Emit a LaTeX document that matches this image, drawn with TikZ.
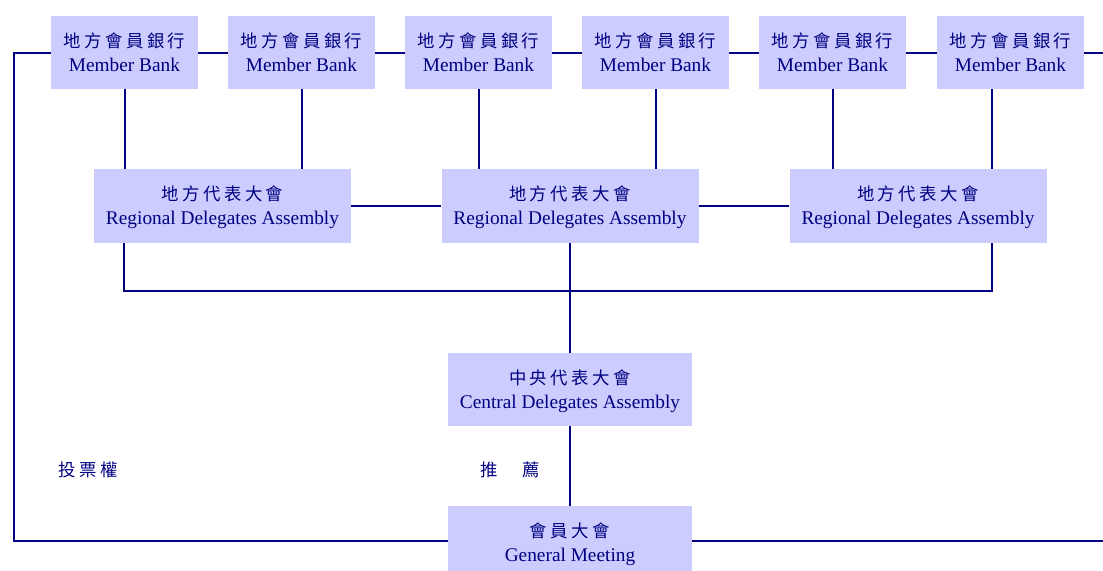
\documentclass[tikz,border=0pt]{standalone}
\usepackage{fontspec}
\setmainfont{Liberation Serif}
\newfontfamily\cjk[LetterSpace=20,Scale=0.9]{Noto Sans CJK TC}
\definecolor{boxfill}{RGB}{204,204,255}
\definecolor{navy}{RGB}{0,0,128}
\begin{document}
\begin{tikzpicture}[x=0.75pt,y=-0.75pt,
  every node/.style={text=navy,font=\fontsize{14.5}{18}\selectfont},
  orgbox/.style={fill=boxfill,inner sep=0pt,align=center,
    text height=31.8pt,text depth=4pt},
  bankbox/.style={orgbox,minimum width=147*0.75pt,minimum height=73*0.75pt},
  regbox/.style={orgbox,minimum width=257*0.75pt,minimum height=74*0.75pt},
  centbox/.style={orgbox,minimum width=244*0.75pt,minimum height=73*0.75pt},
  link/.style={draw=navy,line width=1.5pt}]
\useasboundingbox (0,0) rectangle (1103,571);

% member banks
\foreach \i/\x in {1/124.5,2/301.5,3/478.5,4/655.5,5/832.5,6/1010.5}
  \node[bankbox] (mb\i) at (\x,52.5) {{\cjk 地方會員銀行}\\Member Bank};

% regional delegates assemblies
\node[regbox] (ra) at (222.5,206) {{\cjk 地方代表大會}\\Regional Delegates Assembly};
\node[regbox] (rb) at (570,206) {{\cjk 地方代表大會}\\Regional Delegates Assembly};
\node[regbox] (rc) at (918,206) {{\cjk 地方代表大會}\\Regional Delegates Assembly};

% central assembly and general meeting (the latter runs past the lower edge)
\node[centbox] (ca) at (570,389.5) {{\cjk 中央代表大會}\\Central Delegates Assembly};
\node[centbox] (gm) at (570,542.5) {{\cjk 會員大會}\\General Meeting};

% side labels
\node (vote) at (88,470) {\cjk 投票權};
\node (nom) at (510,470) {\cjk 推　薦};

% helper coordinates
\coordinate (fl) at (14,541);
\coordinate (fr) at (1103,541);
\coordinate (tr) at (1103,52.5);
\coordinate (x6) at (992,0);
\coordinate (xa) at (124,0);
\coordinate (bus) at (0,291);

% chain of member banks
\draw[link] (mb1) -- (mb2) (mb2) -- (mb3) (mb3) -- (mb4) (mb4) -- (mb5) (mb5) -- (mb6);
\draw[link] (mb6.east) -- (tr);

% banks to regional assemblies
\draw[link] (mb1.south) -- (mb1.south |- ra.north);
\draw[link] (mb2.south) -- (mb2.south |- ra.north);
\draw[link] (mb3.south) -- (mb3.south |- rb.north);
\draw[link] (mb4.south) -- (mb4.south |- rb.north);
\draw[link] (mb5.south) -- (mb5.south |- rc.north);
\draw[link] (mb6.south -| x6) -- (rc.north -| x6);

% regional assemblies linked together
\draw[link] (ra) -- (rb) (rb) -- (rc);

% regional assemblies to central assembly
\draw[link] (ra.south -| xa) -- (bus -| xa) -- (bus -| x6) -- (rc.south -| x6);
\draw[link] (rb.south) -- (ca.north);

% central assembly to general meeting
\draw[link] (ca.south) -- (gm.north);

% voting-right frame
\draw[link] (mb1.west) -- (mb1.west -| fl) -- (fl) -- (fl -| gm.west);
\draw[link] (gm.east |- fr) -- (fr);
\end{tikzpicture}
\end{document}
